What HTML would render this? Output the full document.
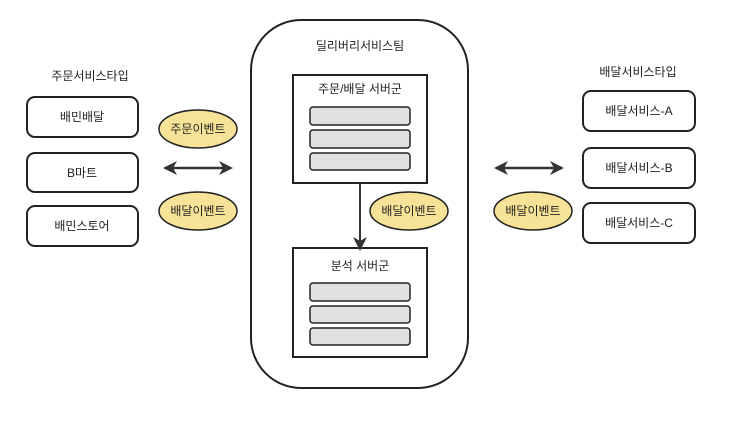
<!DOCTYPE html>
<html><head><meta charset="utf-8"><style>body{margin:0;background:#fff}</style></head><body>
<svg width="750" height="420" xmlns="http://www.w3.org/2000/svg" font-family="'Liberation Sans','Noto Sans CJK KR',sans-serif" font-size="12" fill="#222">
<defs><marker id="a" markerWidth="14" markerHeight="14" refX="12" refY="7" orient="auto-start-reverse" markerUnits="userSpaceOnUse"><path d="M0,0 L14,7 L0,14 L4,7 z" fill="#333"/></marker></defs>
<g stroke="#222" stroke-width="2" fill="#fff">
<rect x="27" y="97" width="111" height="40" rx="8"/>
<rect x="27" y="153" width="111" height="39" rx="8"/>
<rect x="27" y="206" width="111" height="40" rx="8"/>
<rect x="583" y="91" width="112" height="40" rx="8"/>
<rect x="583" y="148" width="112" height="40" rx="8"/>
<rect x="583" y="203" width="112" height="40" rx="8"/>
<rect x="251" y="20" width="217" height="368" rx="50"/>
<rect x="293" y="75" width="134" height="108"/>
<rect x="293" y="248" width="134" height="109"/>
</g>
<g stroke="#222" stroke-width="1.5" fill="#e0e0e0">
<rect x="310" y="107" width="100" height="18" rx="3"/>
<rect x="310" y="130" width="100" height="18" rx="3"/>
<rect x="310" y="153" width="100" height="17" rx="3"/>
<rect x="310" y="283" width="100" height="18" rx="3"/>
<rect x="310" y="306" width="100" height="17" rx="3"/>
<rect x="310" y="328" width="100" height="17" rx="3"/>
</g>
<g stroke="#222" stroke-width="1.5" fill="#f7e397">
<ellipse cx="198" cy="129" rx="39" ry="19"/>
<ellipse cx="198" cy="211" rx="39" ry="19"/>
<ellipse cx="409" cy="211" rx="39" ry="19"/>
<ellipse cx="533" cy="211" rx="39" ry="19"/>
</g>
<g stroke="#333" stroke-width="2.5">
<line x1="165" y1="168" x2="231" y2="168" marker-start="url(#a)" marker-end="url(#a)"/>
<line x1="496" y1="168" x2="562" y2="168" marker-start="url(#a)" marker-end="url(#a)"/>
<line x1="360" y1="183" x2="360" y2="249" stroke-width="2" marker-end="url(#a)"/>
</g>
<g text-anchor="middle">
<text x="90" y="80">주문서비스타입</text>
<text x="82" y="121">배민배달</text>
<text x="82" y="177">B마트</text>
<text x="82" y="230">배민스토어</text>
<text x="638" y="76">배달서비스타입</text>
<text x="639" y="115">배달서비스-A</text>
<text x="639" y="172">배달서비스-B</text>
<text x="639" y="227">배달서비스-C</text>
<text x="360" y="50">딜리버리서비스팀</text>
<text x="360" y="93">주문/배달 서버군</text>
<text x="360" y="270">분석 서버군</text>
<text x="198" y="133">주문이벤트</text>
<text x="198" y="215">배달이벤트</text>
<text x="409" y="215">배달이벤트</text>
<text x="533" y="215">배달이벤트</text>
</g>
</svg>
</body></html>
